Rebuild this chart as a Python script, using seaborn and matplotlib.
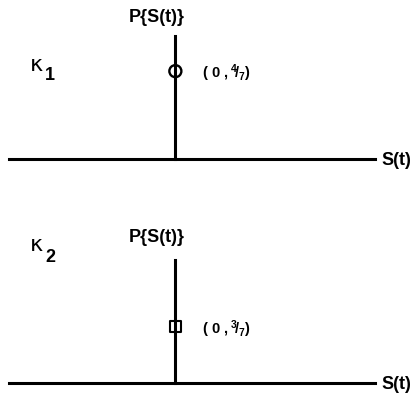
import matplotlib
matplotlib.use('Agg')
import matplotlib.pyplot as plt
import seaborn as sns
import pandas as pd

# data
panels = ['\u03ba', '\u03ba']
panel_subs = ['1', '2']
prob_num = [4, 3]
prob_den = [7, 7]
state = [0, 0]
markers = ['o', 's']
ylim_top = [0.8, 0.94]

sns.set_style('white')
plt.rcParams['font.family'] = ['Liberation Sans', 'DejaVu Sans']
plt.rcParams['text.color'] = 'black'
plt.rcParams['mathtext.fontset'] = 'custom'
plt.rcParams['mathtext.rm'] = 'Liberation Sans:bold'
plt.rcParams['mathtext.it'] = 'Liberation Sans:bold'
plt.rcParams['mathtext.bf'] = 'Liberation Sans:bold'

fig = plt.figure(figsize=(4.14, 4.0), dpi=100)
W, H = 414, 400

# axes boxes in pixels: left, top, right, bottom
boxes = [(9, 36, 375, 159), (9, 260, 375, 383)]
kappa_pos = [(37, 65, 50, 76), (37, 245, 50, 257)]

for i, (l, t, r, b) in enumerate(boxes):
    ax = fig.add_axes([l / W, 1 - b / H, (r - l) / W, (b - t) / H])
    df = pd.DataFrame({'S': [state[i]], 'P': [prob_num[i] / prob_den[i]]})
    sns.scatterplot(data=df, x='S', y='P', marker=markers[i], s=75 if i == 0 else 62,
                    facecolor='none', edgecolor='black',
                    linewidth=1.7 if i == 0 else 1.5, ax=ax, zorder=5, clip_on=False)
    ax.set_xlim(-1, 1.2)
    ax.set_ylim(0, ylim_top[i])
    for s in ['top', 'right']:
        ax.spines[s].set_visible(False)
    ax.spines['left'].set_position(('data', 0))
    for s in ['left', 'bottom']:
        ax.spines[s].set_linewidth(2.2)
        ax.spines[s].set_color('black')
    ax.set_xticks([])
    ax.set_yticks([])
    ax.set_xlabel('')
    ax.set_ylabel('')
    ax.patch.set_alpha(0)

    ax.annotate('P{S(t)}', xy=(0, 1), xycoords=('data', 'axes fraction'),
                xytext=(-13.5, 13.5 if i == 0 else 16.5), textcoords='offset points',
                ha='center', va='center', fontsize=13, fontweight='bold')
    ax.annotate('S(t)', xy=(1, 0), xycoords='axes fraction',
                xytext=(4.3, -0.8), textcoords='offset points',
                ha='left', va='center', fontsize=13, fontweight='bold')
    lab = r'$(\ 0\ ,{}^{%d}\!/_{%d})$' % (prob_num[i], prob_den[i])
    ax.annotate(lab, xy=(state[i], prob_num[i] / prob_den[i]),
                xytext=(19.5, -1.5), textcoords='offset points',
                ha='left', va='center', fontsize=10.5)

    kx, ky, sx, sy = kappa_pos[i]
    fig.text(kx / W, 1 - ky / H, panels[i], ha='center', va='center', fontsize=16,
             family='DejaVu Sans')
    fig.text(sx / W, 1 - sy / H, panel_subs[i], ha='center', va='center',
             fontsize=13, fontweight='bold')

fig.savefig('out.png', dpi=100)
